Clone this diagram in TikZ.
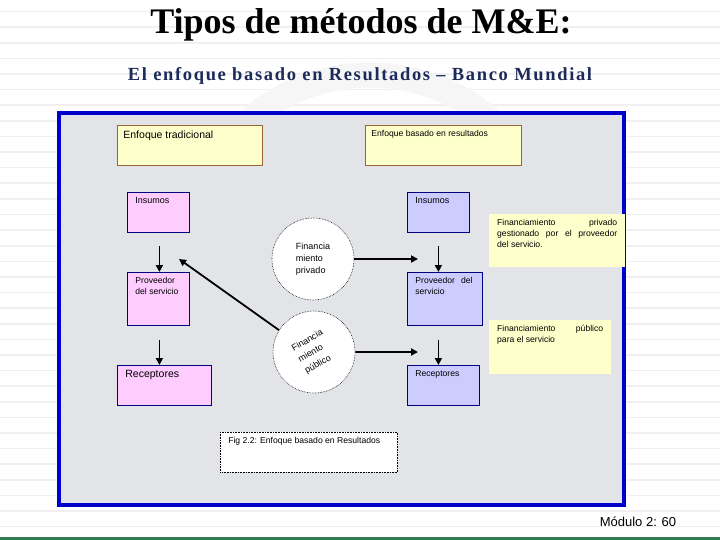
\documentclass[tikz,border=0pt]{standalone}
\usepackage{fontspec}
\setmainfont{Liberation Sans}
\newfontfamily\serifttl{Liberation Serif}
\newfontfamily\serifsub[LetterSpace=9]{Liberation Serif}
\usetikzlibrary{arrows.meta,calc}
\definecolor{frameblue}{HTML}{0000CC}
\definecolor{panelgray}{HTML}{E3E4E8}
\definecolor{pinkfill}{HTML}{FFCCFF}
\definecolor{lavfill}{HTML}{CCCCFF}
\definecolor{navyline}{HTML}{000080}
\definecolor{yelfill}{HTML}{FFFFCC}
\definecolor{brownline}{HTML}{996633}
\definecolor{subnavy}{HTML}{1C2B5A}
\definecolor{stripegray}{HTML}{F0F0F0}
\definecolor{footgreen}{HTML}{2E7D4F}
\newcommand\tbx[3]{\parbox[t][#2][t]{#1}{#3}}
\tikzset{
  pbox/.style={draw=navyline, line width=0.8pt, fill=pinkfill, anchor=north west, inner xsep=8pt, inner ysep=5pt},
  lbox/.style={draw=navyline, line width=0.8pt, fill=lavfill, anchor=north west, inner xsep=8pt, inner ysep=5pt},
  ybox/.style={draw=brownline, line width=0.8pt, fill=yelfill, anchor=north west, inner xsep=6pt, inner ysep=5pt},
  note/.style={fill=yelfill, anchor=north west, inner xsep=8pt, inner ysep=5pt},
  bubble/.style={circle, draw=black, densely dotted, line width=0.6pt, fill=white, minimum size=82pt, inner sep=0pt, align=left, font=\fontsize{9}{12}\selectfont},
  arr/.style={line width=1.8pt, -{Triangle[length=7pt,width=7pt]}},
  sm/.style={font=\fontsize{8.6}{11}\selectfont}
}
\begin{document}
\begin{tikzpicture}[x=1pt,y=-1pt]
\useasboundingbox (0,0) rectangle (720,540);
\fill[white] (0,0) rectangle (720,540);
\foreach \k in {0,...,34} {\draw[stripegray, line width=1.6pt] (0,{11.7+15.6*\k}) -- (720,{11.7+15.6*\k});}
\draw[gray!7, line width=25pt] (370,260) circle[radius=185pt];
% title
\node[font=\serifttl\bfseries\fontsize{36}{40}\selectfont] (title) at (361,25) {Tipos de métodos de M\&E:};
\node[font=\serifsub\bfseries\fontsize{18.5}{22}\selectfont, text=subnavy] (sub) at (360,76) {El enfoque basado en Resultados – Banco Mundial};
% panel
\draw[frameblue, line width=4pt, fill=panelgray] (59,113) rectangle (624,505);
% top boxes
\node[ybox] (trad) at (117,125) {\tbx{133pt}{30pt}{\fontsize{10.5}{13}\selectfont Enfoque tradicional}};
\node[ybox, sm] (res) at (365,125) {\tbx{144pt}{30pt}{Enfoque basado en resultados}};
% left column
\node[pbox] (insL) at (127,192) {\tbx{46pt}{30pt}{\fontsize{9}{11}\selectfont Insumos}};
\node[pbox, sm] (provL) at (127,272) {\tbx{46pt}{43pt}{Proveedor\\del servicio}};
\node[pbox] (recL) at (117,365) {\tbx{78pt}{30pt}{\fontsize{10.5}{13}\selectfont Receptores}};
% right column
\node[lbox] (insR) at (407,192) {\tbx{46pt}{30pt}{\fontsize{9}{11}\selectfont Insumos}};
\node[lbox, sm] (provR) at (407,272) {\tbx{59pt}{43pt}{Proveedor\hspace{6pt}del\\servicio}};
\node[lbox, sm] (recR) at (407,365) {\tbx{56pt}{30pt}{Receptores}};
% notes
\node[note, sm] (n1) at (489,214) {\tbx{120pt}{43pt}{Financiamiento\hfill privado\\\makebox[\linewidth][s]{gestionado por el proveedor}\\del servicio.}};
\node[note, sm] (n2) at (489,320) {\tbx{106pt}{44pt}{Financiamiento\hfill público\\para el servicio}};
% bubbles
\node[bubble] (priv) at (313,259) {Financia\\miento\\privado};
\node[bubble, rotate=30, font=\fontsize{9}{13}\selectfont] (pub) at (314,352) {Financia\\miento\\público};
% caption
\node[draw=black, densely dotted, line width=0.6pt, fill=white, anchor=north west, inner xsep=8pt, inner ysep=5pt, sm] (fig) at (220,432) {\tbx{161pt}{30pt}{Fig 2.2: Enfoque basado en Resultados}};
% arrows
\coordinate (a1) at ($(insL.south)+(1,13)$);
\coordinate (a2) at ($(provL.south)+(1,14)$);
\coordinate (a3) at ($(insR.south)+(0,13)$);
\coordinate (a4) at ($(provR.south)+(-6.5,14)$);
\coordinate (e1) at (418,259);
\coordinate (e2) at (418,352);
\coordinate (e3) at (179,259);
\draw[arr] (a1) -- (a1 |- provL.north);
\draw[arr] (a2) -- (a2 |- recL.north);
\draw[arr] (a3) -- (a3 |- provR.north);
\draw[arr] (a4) -- (a4 |- recR.north);
\draw[arr] (priv.east) -- (e1);
\draw[arr] (pub.-30) -- (e2);
\draw[arr] (pub.118) -- (e3);
% footer
\draw[footgreen, line width=3pt] (0,538.5) -- (720,538.5);
\node[font=\fontsize{13}{15}\selectfont] (foot) at (638,522) {Módulo 2: 60};
\end{tikzpicture}
\end{document}
